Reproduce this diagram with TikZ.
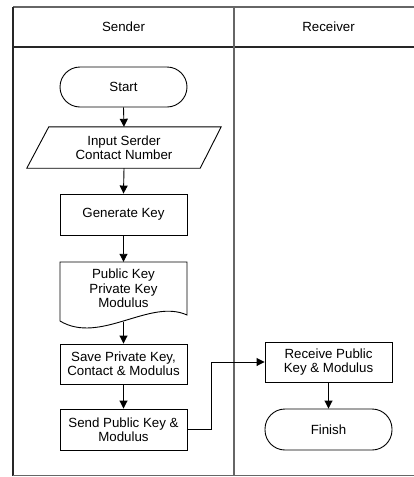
\documentclass[tikz,border=0pt]{standalone}
\usepackage{fontspec}
\setmainfont{Liberation Sans}
\usetikzlibrary{arrows.meta}
\begin{document}
\begin{tikzpicture}[x=1pt,y=-1pt,
  every node/.style={font=\fontsize{13.3}{14.4}\selectfont, align=center, inner sep=0pt},
  procbox/.style={draw, line width=0.9pt, minimum width=127pt, minimum height=41pt},
  terminal/.style={draw, line width=0.9pt, rounded corners=20pt, minimum width=127pt, minimum height=41pt},
  textarea/.style={minimum width=127pt},
  flow/.style={line width=0.9pt, -{Triangle[length=8pt,width=8pt]}},
  laneline/.style={line width=1.2pt, draw=black!60},
  edgeline/.style={line width=1.4pt, draw=black!85}]
  \useasboundingbox (0,0) rectangle (414,477);

  % swimlane frame
  \draw[laneline] (13,7) -- (414,7);
  \draw[edgeline] (13,6.5) -- (13,476);
  \draw[edgeline] (13,47) -- (414,47);
  \draw[laneline] (13,475.5) -- (414,475.5);
  \draw[laneline] (234,7) -- (234,476);
  \node (lsend) at (123.5,27) {Sender};
  \node (lrecv) at (328.5,27) {Receiver};

  % sender lane
  \node[terminal, minimum height=40pt] (start) at (123.5,87) {Start};

  \node[minimum width=194pt, minimum height=41pt] (input) at (124,147.5)
       {Input Serder\\Contact Number};
  \draw[line width=0.9pt] ([xshift=22pt]input.north west) -- (input.north east)
       -- ([xshift=-21pt]input.south east) -- (input.south west) -- cycle;

  \node[procbox] (gen) at (123.5,214.5) {Generate Key};

  \node[textarea, minimum height=53pt] (doc) at (123.5,288.5)
       {Public Key\\Private Key\\Modulus};
  \draw[line width=0.9pt] (60,321) -- (60,262) -- (187,262) -- (187,315)
       .. controls (150,298) and (100,345) .. (60,321);
  \coordinate (docb) at (123.5,322);

  \node[procbox, minimum height=40pt] (save) at (123.5,364)
       {Save Private Key,\\Contact \& Modulus};
  \node[procbox] (send) at (123.5,429.5) {Send Public Key \&\\Modulus};

  % receiver lane
  \node[procbox, minimum height=40pt] (recv) at (328.5,362)
       {Receive Public\\Key \& Modulus};
  \node[terminal] (finish) at (328.5,429.5) {Finish};

  % connectors
  \draw[flow] (start.south) -- (input.north);
  \draw[flow] (input.south) -- (gen.north);
  \draw[flow] (gen.south) -- (doc.north);
  \draw[flow] (docb) -- (save.north);
  \draw[flow] (save.south) -- (send.north);
  \draw[flow] (send.east) -- ++(24,0) |- (recv.west);
  \draw[flow] (recv.south) -- (finish.north);
\end{tikzpicture}
\end{document}
